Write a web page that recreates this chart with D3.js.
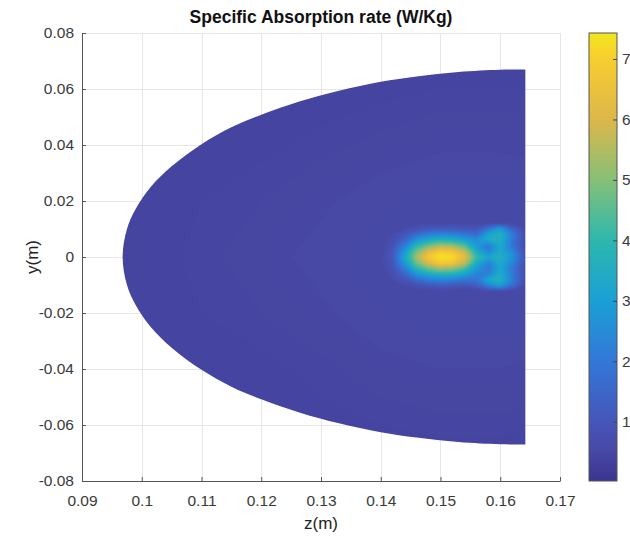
<!DOCTYPE html>
<html lang="en">
<head>
<meta charset="UTF-8">
<title>Specific Absorption rate (W/Kg)</title>
<script src="https://cdn.jsdelivr.net/npm/d3@7"></script>
<style>
    html, body {
        margin: 0;
        padding: 0;
        background: #fff;
    }
    svg text {
        font-family: "Liberation Sans", Arial, Helvetica, sans-serif;
    }
</style>
</head>
<body>
<svg id="chart" width="630" height="540"></svg>
<script>
// ---- axes ----
var xTicks = [0.09, 0.10, 0.11, 0.12, 0.13, 0.14, 0.15, 0.16, 0.17];
var xTickLabels = ["0.09", "0.1", "0.11", "0.12", "0.13", "0.14", "0.15", "0.16", "0.17"];
var yTicks = [0.08, 0.06, 0.04, 0.02, 0, -0.02, -0.04, -0.06, -0.08];
var yTickLabels = ["0.08", "0.06", "0.04", "0.02", "0", "-0.02", "-0.04", "-0.06", "-0.08"];
var cTicks = [1, 2, 3, 4, 5, 6, 7];
var cLimits = [0.02, 7.43];

// colour map
var cStops = [0, 0.5, 1, 2, 3, 4, 5, 6, 7, 7.43];
var cColors = ["#3b3390", "#4748a4", "#4656b9", "#3377d8", "#1aa0d6",
               "#2db7ad", "#86c077", "#dcb74a", "#f8cd30", "#f1e71f"];

// outline of the section, upper half (the lower half is its mirror)
var edgeZ = [0.1642, 0.1600, 0.1530, 0.1460, 0.1400, 0.1330, 0.1265, 0.1200, 0.1150,
             0.1100, 0.1050, 0.1015, 0.0990, 0.0975, 0.0968];
var edgeY = [0.0670, 0.0669, 0.0661, 0.0645, 0.0626, 0.0594, 0.0556, 0.0508, 0.0463,
             0.0403, 0.0324, 0.0250, 0.0172, 0.0098, 0.0000];

// coarse SAR grid over the whole section (rows top -> bottom)
var bgZ = [0.09, 0.10, 0.11, 0.12, 0.13, 0.14, 0.15, 0.16, 0.17];
var bgY = [0.08, 0.06, 0.04, 0.02, 0, -0.02, -0.04, -0.06, -0.08];
var bgSAR = [
    [0.40, 0.40, 0.40, 0.40, 0.40, 0.40, 0.40, 0.40, 0.40],
    [0.40, 0.40, 0.41, 0.42, 0.42, 0.43, 0.44, 0.44, 0.44],
    [0.40, 0.41, 0.42, 0.43, 0.45, 0.47, 0.49, 0.49, 0.48],
    [0.40, 0.42, 0.44, 0.46, 0.49, 0.53, 0.57, 0.57, 0.54],
    [0.40, 0.42, 0.45, 0.48, 0.52, 0.58, 0.62, 0.62, 0.60],
    [0.40, 0.42, 0.44, 0.46, 0.49, 0.54, 0.58, 0.58, 0.54],
    [0.40, 0.41, 0.42, 0.43, 0.45, 0.48, 0.50, 0.50, 0.48],
    [0.40, 0.40, 0.41, 0.42, 0.43, 0.44, 0.45, 0.45, 0.44],
    [0.40, 0.40, 0.40, 0.40, 0.40, 0.40, 0.40, 0.40, 0.40]
];

// fine SAR grid around the hot spot (rows top -> bottom)
var hotZ = [0.140, 0.142, 0.144, 0.146, 0.148, 0.150, 0.152, 0.154, 0.156, 0.158, 0.160, 0.162, 0.164, 0.166];
var hotY = [0.012, 0.010, 0.008, 0.006, 0.004, 0.002, 0, -0.002, -0.004, -0.006, -0.008, -0.010, -0.012];
var hotSAR = [
    [0.6, 0.6, 0.6, 0.6, 0.6, 0.6, 0.6, 0.6, 0.6, 0.6, 0.6, 0.6, 0.6, 0.6],
    [0.6, 0.6, 0.7, 0.9, 1.1, 1.2, 1.1, 1.0, 1.0, 2.0, 3.0, 1.5, 0.7, 0.6],
    [0.6, 0.7, 1.0, 1.7, 2.2, 2.4, 2.3, 2.0, 1.7, 3.2, 3.7, 2.2, 0.8, 0.6],
    [0.6, 0.8, 1.5, 2.8, 3.4, 3.7, 3.6, 3.2, 2.7, 3.4, 3.6, 2.0, 0.8, 0.6],
    [0.6, 0.9, 2.2, 3.9, 4.7, 5.3, 5.1, 4.4, 2.9, 1.9, 3.3, 2.0, 0.8, 0.6],
    [0.6, 1.0, 2.9, 4.8, 6.1, 6.9, 6.7, 5.7, 3.5, 2.3, 3.4, 2.4, 0.9, 0.6],
    [0.6, 1.1, 3.2, 5.3, 6.9, 7.4, 7.3, 6.3, 4.1, 3.3, 3.6, 2.8, 1.0, 0.6],
    [0.6, 1.0, 2.9, 4.8, 6.1, 6.9, 6.7, 5.7, 3.5, 2.3, 3.4, 2.4, 0.9, 0.6],
    [0.6, 0.9, 2.2, 3.9, 4.7, 5.3, 5.1, 4.4, 2.9, 2.0, 3.3, 2.0, 0.8, 0.6],
    [0.6, 0.8, 1.5, 2.8, 3.4, 3.7, 3.6, 3.2, 2.4, 2.2, 3.5, 2.1, 0.8, 0.6],
    [0.6, 0.7, 1.0, 1.7, 2.2, 2.4, 2.3, 2.0, 2.0, 3.3, 3.7, 2.2, 0.8, 0.6],
    [0.6, 0.6, 0.7, 0.9, 1.1, 1.2, 1.1, 1.0, 1.3, 2.4, 3.1, 1.8, 0.7, 0.6],
    [0.6, 0.6, 0.6, 0.6, 0.6, 0.6, 0.6, 0.6, 0.6, 0.6, 0.6, 0.6, 0.6, 0.6]
];

var W = 630, H = 540;
var margin = {left: 82, right: 70, top: 33, bottom: 59};

var svg = d3.select("#chart");

var x = d3.scaleLinear().domain([0.09, 0.17]).range([margin.left, W - margin.right]);
var y = d3.scaleLinear().domain([-0.08, 0.08]).range([H - margin.bottom, margin.top]);
var color = d3.scaleLinear().domain(cStops).range(cColors).clamp(true);

var defs = svg.append("defs");

// grid
var grid = svg.append("g").attr("stroke", "#e6e6e6").attr("stroke-width", 1);
grid.selectAll(".gx").data(xTicks).enter().append("line")
    .attr("x1", function (d) { return Math.round(x(d)) + 0.5; })
    .attr("x2", function (d) { return Math.round(x(d)) + 0.5; })
    .attr("y1", y(-0.08)).attr("y2", y(0.08));
grid.selectAll(".gy").data(yTicks).enter().append("line")
    .attr("y1", function (d) { return Math.round(y(d)) + 0.5; })
    .attr("y2", function (d) { return Math.round(y(d)) + 0.5; })
    .attr("x1", x(0.09)).attr("x2", x(0.17));

// outline of the section
var outline = edgeZ.map(function (z, i) { return [z, edgeY[i]]; });
var lower = outline.slice(0, -1).reverse().map(function (p) { return [p[0], -p[1]]; });
outline = outline.concat(lower);

var edgeLine = d3.line()
    .x(function (d) { return x(d[0]); })
    .y(function (d) { return y(d[1]); })
    .curve(d3.curveCatmullRom.alpha(0.5));

defs.append("clipPath").attr("id", "sectionClip")
    .append("path").attr("d", edgeLine(outline) + "Z");

defs.append("filter").attr("id", "soft")
    .attr("x", "-5%").attr("y", "-5%").attr("width", "110%").attr("height", "110%")
    .append("feGaussianBlur").attr("stdDeviation", 1.1);

// contour helper: grid coordinate -> screen
function contourLayer(parent, zs, ys, rows, thresholds) {
    var nx = zs.length, ny = ys.length;
    var dz = zs[1] - zs[0], dy = ys[1] - ys[0];
    var values = [];
    rows.forEach(function (r) { r.forEach(function (v) { values.push(v); }); });
    var proj = d3.geoTransform({
        point: function (cx, cy) {
            this.stream.point(x(zs[0] + (cx - 0.5) * dz), y(ys[0] + (cy - 0.5) * dy));
        }
    });
    var path = d3.geoPath(proj);
    var bands = d3.contours().size([nx, ny]).thresholds(thresholds)(values);
    parent.selectAll(null).data(bands).enter().append("path")
        .attr("d", path)
        .attr("fill", function (d) { return color(d.value); })
        .attr("stroke", function (d) { return color(d.value); })
        .attr("stroke-width", 0.6);
}

var field = svg.append("g").attr("clip-path", "url(#sectionClip)")
    .append("g").attr("filter", "url(#soft)");

contourLayer(field, bgZ, bgY, bgSAR, d3.range(0, 0.7, 0.02));
contourLayer(field, hotZ, hotY, hotSAR, d3.range(0.7, 7.45, 0.08));

// axes (ticks point inward, no box)
var xAxis = d3.axisBottom(x).tickValues(xTicks)
    .tickFormat(function (d, i) { return xTickLabels[i]; })
    .tickSizeInner(-4).tickSizeOuter(0).tickPadding(14);
var yAxis = d3.axisLeft(y).tickValues(yTicks)
    .tickFormat(function (d, i) { return yTickLabels[i]; })
    .tickSizeInner(-4).tickSizeOuter(0).tickPadding(8);

var gx = svg.append("g").attr("transform", "translate(0," + y(-0.08) + ")").call(xAxis);
var gy = svg.append("g").attr("transform", "translate(" + x(0.09) + ",0)").call(yAxis);
[gx, gy].forEach(function (g) {
    g.select(".domain").attr("stroke", "#555");
    g.selectAll(".tick line").attr("stroke", "#555");
    g.selectAll(".tick text").attr("fill", "#3a3a3a").style("font-size", "15.5px");
});

// title and axis labels
svg.append("text").attr("x", (x(0.09) + x(0.17)) / 2).attr("y", 23)
    .attr("text-anchor", "middle").style("font-weight", "bold").style("font-size", "17.5px")
    .attr("fill", "#111").text("Specific Absorption rate (W/Kg)");
svg.append("text").attr("x", (x(0.09) + x(0.17)) / 2).attr("y", 529)
    .attr("text-anchor", "middle").style("font-size", "17px").attr("fill", "#222").text("z(m)");
svg.append("text").attr("transform", "translate(38," + y(0) + ") rotate(-90)")
    .attr("text-anchor", "middle").style("font-size", "17px").attr("fill", "#222").text("y(m)");

// colour bar
var cbX = 589, cbW = 28;
var cy = d3.scaleLinear().domain(cLimits).range([H - margin.bottom, margin.top]);
var grad = defs.append("linearGradient").attr("id", "cbGrad")
    .attr("x1", 0).attr("y1", 1).attr("x2", 0).attr("y2", 0);
grad.selectAll("stop").data(d3.range(0, 41)).enter().append("stop")
    .attr("offset", function (i) { return i / 40; })
    .attr("stop-color", function (i) { return color(cLimits[0] + i / 40 * (cLimits[1] - cLimits[0])); });

svg.append("rect").attr("x", cbX).attr("y", cy(cLimits[1]))
    .attr("width", cbW).attr("height", cy(cLimits[0]) - cy(cLimits[1]))
    .attr("fill", "url(#cbGrad)").attr("stroke", "#555").attr("stroke-width", 1);

var cAxis = d3.axisRight(cy).tickValues(cTicks).tickFormat(d3.format("d"))
    .tickSizeInner(-4).tickSizeOuter(0).tickPadding(5);
var gc = svg.append("g").attr("transform", "translate(" + (cbX + cbW) + ",0)").call(cAxis);
gc.select(".domain").remove();
gc.selectAll(".tick line").attr("stroke", "#444");
gc.selectAll(".tick text").attr("fill", "#3a3a3a").style("font-size", "15.5px");
</script>
</body>
</html>
